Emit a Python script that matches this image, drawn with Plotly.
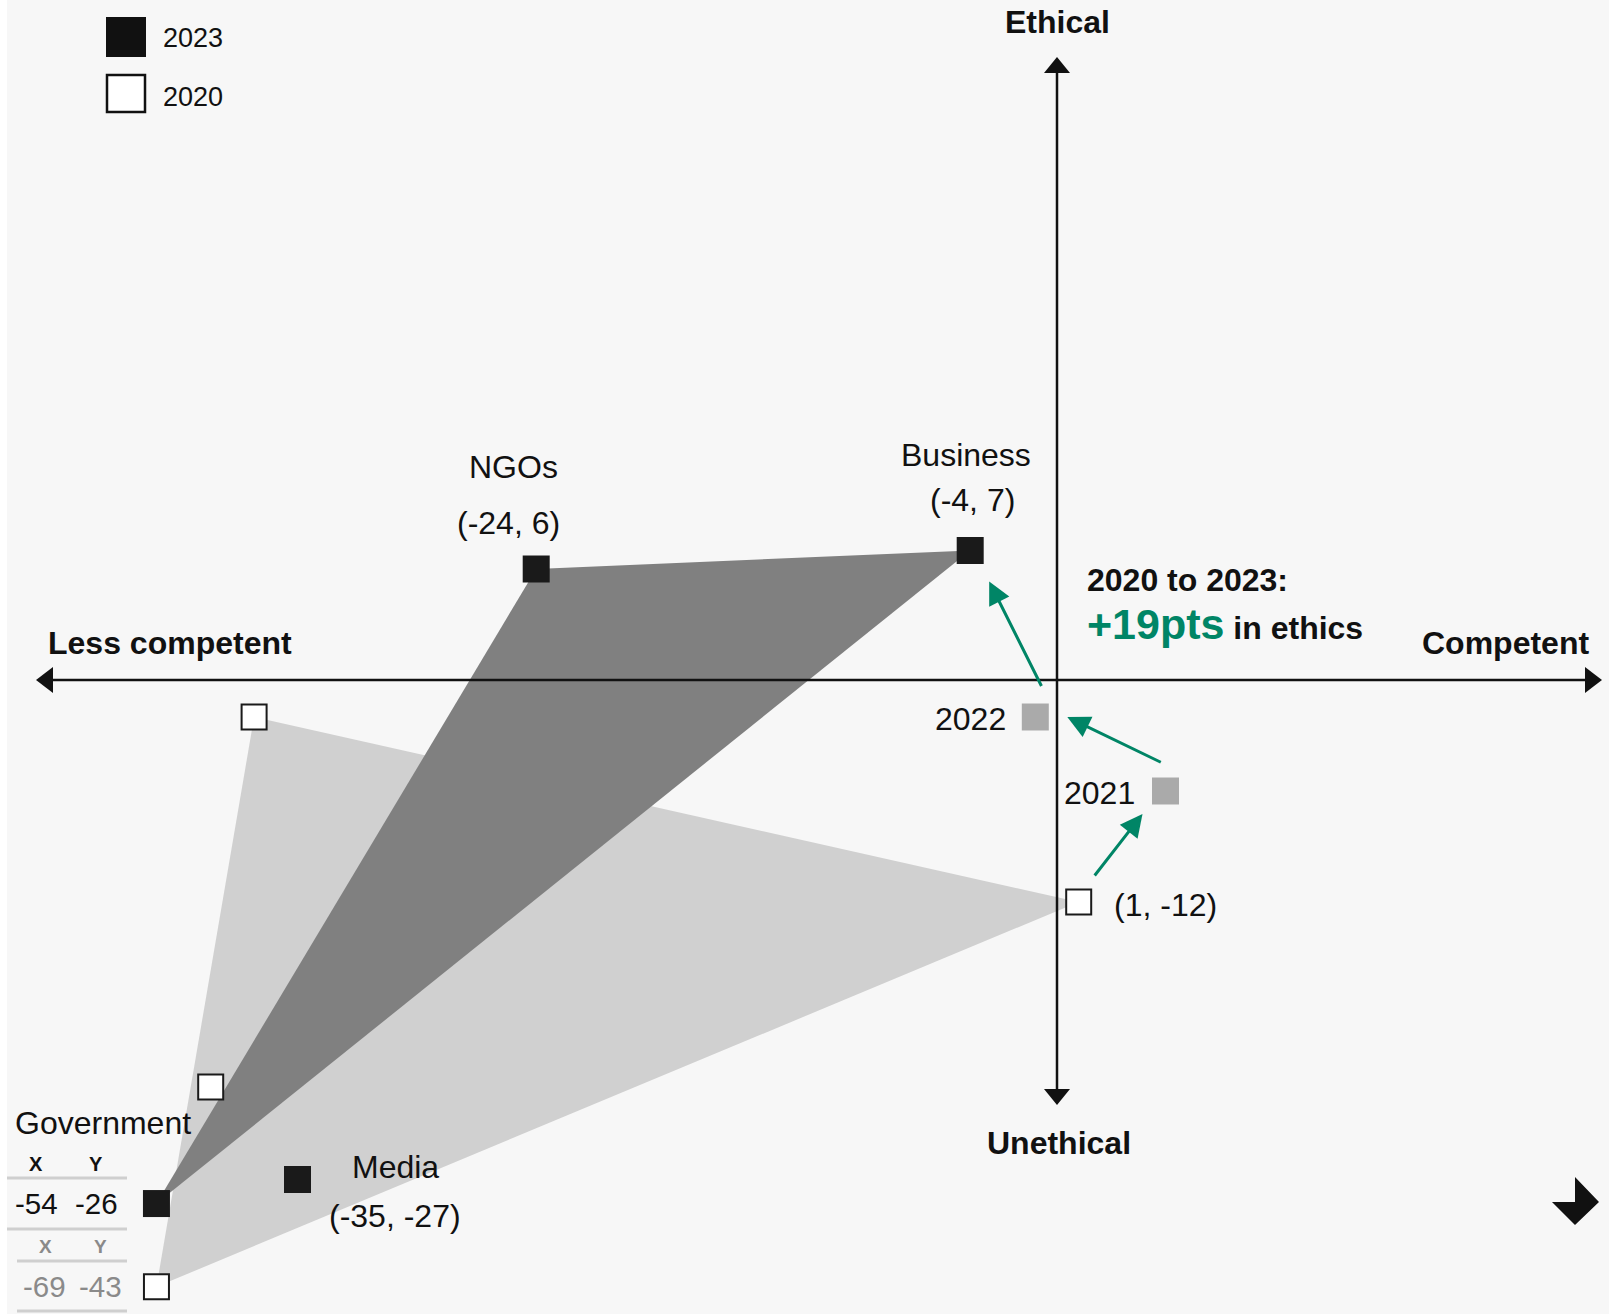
import plotly.graph_objects as go

# Competence (x) vs ethics (y) net scores per institution
institutions = ["Business", "NGOs", "Government", "Media"]
score_2023_x = [-4, -24, -54, -35]
score_2023_y = [7, 6, -26, -27]
score_2020_x = [1, -37, -69, -39]
score_2020_y = [-12, -2, -43, -22]

# Government is far off the scale, so the chart pins it into the lower-left corner
gov_pinned_2023 = (-41.5, -28.3)
gov_pinned_2020 = (-41.5, -32.8)

# Business path between 2020 and 2023
path_years = ["2021", "2022"]
path_x = [5, -1]
path_y = [-6, -2]

legend_years = ["2023", "2020"]

INK = "#111111"
GREEN = "#008566"
BG = "#f7f7f7"
FONT = "Liberation Sans, Arial, sans-serif"
LBL = 32

W, H = 1609, 1314
X0_PX, Y0_PX = 1057, 680   # where the origin sits on the page
SX, SY = 21.7, 18.5        # pixels per point on each axis
x_range = [-X0_PX / SX, (W - X0_PX) / SX]
y_range = [-(H - Y0_PX) / SY, Y0_PX / SY]


def px(x):
    return x / W


def py(y):
    return 1 - y / H


def poly_path(points):
    return "M " + " L ".join(f"{px(a):.5f},{py(b):.5f}" for a, b in points) + " Z"


# positions actually drawn (Government pinned)
plot_2023_x = list(score_2023_x)
plot_2023_y = list(score_2023_y)
plot_2020_x = list(score_2020_x)
plot_2020_y = list(score_2020_y)
gi = institutions.index("Government")
plot_2023_x[gi], plot_2023_y[gi] = gov_pinned_2023
plot_2020_x[gi], plot_2020_y[gi] = gov_pinned_2020

tri = [institutions.index(n) for n in ["Business", "NGOs", "Government"]]

fig = go.Figure()

# shaded triangles, 2020 underneath
fig.add_trace(go.Scatter(
    x=[plot_2020_x[i] for i in tri], y=[plot_2020_y[i] for i in tri],
    fill="toself", fillcolor="#d0d0d0", mode="lines",
    line=dict(width=0, color="rgba(0,0,0,0)"), hoverinfo="skip"))
fig.add_trace(go.Scatter(
    x=[plot_2023_x[i] for i in tri], y=[plot_2023_y[i] for i in tri],
    fill="toself", fillcolor="#808080", mode="lines",
    line=dict(width=0, color="rgba(0,0,0,0)"), hoverinfo="skip"))

# markers
fig.add_trace(go.Scatter(
    x=plot_2020_x, y=plot_2020_y, mode="markers", name="2020",
    marker=dict(symbol="square", size=25, color="white",
                line=dict(color="#1a1a1a", width=2))))
fig.add_trace(go.Scatter(
    x=path_x, y=path_y, mode="markers", name="path",
    marker=dict(symbol="square", size=27, color="#aaaaaa", line=dict(width=0))))
fig.add_trace(go.Scatter(
    x=plot_2023_x, y=plot_2023_y, mode="markers", name="2023",
    marker=dict(symbol="square", size=27, color="#1a1a1a", line=dict(width=0))))

shapes = []
# thin white strip on the left edge
shapes.append(dict(type="rect", xref="paper", yref="paper", x0=0, x1=px(7), y0=0, y1=1,
                   fillcolor="white", line=dict(width=0), layer="below"))

# axes with arrowheads
ax_line = dict(color=INK, width=2.5)
shapes.append(dict(type="line", xref="paper", yref="y", x0=px(50), x1=px(1588), y0=0, y1=0,
                   line=ax_line, layer="above"))
shapes.append(dict(type="line", xref="x", yref="paper", x0=0, x1=0, y0=py(70), y1=py(1092),
                   line=ax_line, layer="above"))
for pts in [
    [(36, Y0_PX), (53, Y0_PX - 13), (53, Y0_PX + 13)],
    [(1602, Y0_PX), (1585, Y0_PX - 13), (1585, Y0_PX + 13)],
    [(X0_PX, 57), (X0_PX - 13, 73), (X0_PX + 13, 73)],
    [(X0_PX, 1105), (X0_PX - 13, 1089), (X0_PX + 13, 1089)],
]:
    shapes.append(dict(type="path", xref="paper", yref="paper", path=poly_path(pts),
                       fillcolor=INK, line=dict(width=0), layer="above"))

# legend squares
shapes.append(dict(type="rect", xref="paper", yref="paper", x0=px(106), x1=px(146),
                   y0=py(17), y1=py(57), fillcolor=INK, line=dict(width=0)))
shapes.append(dict(type="rect", xref="paper", yref="paper", x0=px(107), x1=px(145),
                   y0=py(75), y1=py(112), fillcolor="white", line=dict(color=INK, width=2.5)))

# Government table rules
for yy, x0 in [(1178, 7), (1229, 7), (1261, 17), (1311, 17)]:
    shapes.append(dict(type="line", xref="paper", yref="paper", x0=px(x0), x1=px(127),
                       y0=py(yy), y1=py(yy), line=dict(color="#cfcfcf", width=3)))

# share icon bottom right
shapes.append(dict(type="path", xref="paper", yref="paper",
                   path=poly_path([(1552, 1202), (1575, 1202), (1575, 1177),
                                   (1599, 1202), (1575, 1225)]),
                   fillcolor=INK, line=dict(width=0)))


def note(text, x, y, dx=0, dy=0, size=LBL, color=INK, anchor="center", xref="x", yref="y"):
    fig.add_annotation(text=text, x=x, y=y, xref=xref, yref=yref, xshift=dx, yshift=-dy,
                       showarrow=False, xanchor=anchor, yanchor="middle",
                       font=dict(size=size, color=color, family=FONT))


# legend text
note(legend_years[0], px(161), py(38), size=27, anchor="left", xref="paper", yref="paper")
note(legend_years[1], px(161), py(97), size=27, anchor="left", xref="paper", yref="paper")

# axis titles
note("<b>Ethical</b>", 0, py(22), yref="paper")
note("<b>Unethical</b>", 0, py(1143), dx=2, yref="paper")
note("<b>Less competent</b>", px(170), 0, dy=-37, xref="paper")
note("<b>Competent</b>", px(1505), 0, dy=-37, xref="paper")

# institution labels
i = institutions.index("NGOs")
note("NGOs", score_2023_x[i], score_2023_y[i], dx=-23, dy=-102)
note(f"({score_2023_x[i]}, {score_2023_y[i]})", score_2023_x[i], score_2023_y[i], dx=-28, dy=-46)
i = institutions.index("Business")
note("Business", score_2023_x[i], score_2023_y[i], dx=-4, dy=-96)
note(f"({score_2023_x[i]}, {score_2023_y[i]})", score_2023_x[i], score_2023_y[i], dx=2, dy=-51)
note(f"({score_2020_x[i]}, {score_2020_y[i]})", score_2020_x[i], score_2020_y[i],
     dx=33, dy=3, anchor="left")
i = institutions.index("Media")
note("Media", score_2023_x[i], score_2023_y[i], dx=98, dy=-13)
note(f"({score_2023_x[i]}, {score_2023_y[i]})", score_2023_x[i], score_2023_y[i], dx=97, dy=36)

for yr, x, y in zip(path_years, path_x, path_y):
    note(yr, x, y, dx=-27 if yr == "2022" else -29, dy=2, anchor="right")

# Government label with its value table
gx, gy = gov_pinned_2023
note("Government", gx, gy, dx=-143, dy=-81, anchor="left")
note("<b>X</b>", gx, gy, dx=-120, dy=-40, size=20)
note("<b>Y</b>", gx, gy, dx=-60, dy=-40, size=20)
note(str(score_2023_x[gi]), gx, gy, dx=-120, dy=0, size=29.5)
note(str(score_2023_y[gi]), gx, gy, dx=-60, dy=0, size=29.5)
gx, gy = gov_pinned_2020
note("<b>X</b>", gx, gy, dx=-111, dy=-40, size=19, color="#8a8a8a")
note("<b>Y</b>", gx, gy, dx=-56, dy=-40, size=19, color="#8a8a8a")
note(str(score_2020_x[gi]), gx, gy, dx=-112, dy=0, size=29.5, color="#8a8a8a")
note(str(score_2020_y[gi]), gx, gy, dx=-56, dy=0, size=29.5, color="#8a8a8a")

# callout
change = score_2023_y[institutions.index("Business")] - score_2020_y[institutions.index("Business")]
note("<b>2020 to 2023:</b>", px(1085), py(580), anchor="left", xref="paper", yref="paper")
note(f"<b><span style='color:{GREEN};font-size:43px'>+{change}pts</span> in ethics</b>",
     px(1085), py(624), anchor="left", xref="paper", yref="paper")

# green arrows along the Business path: 2020 -> 2021 -> 2022 -> 2023
bi = institutions.index("Business")
arrows = [
    (path_x[0], path_y[0], -23, 23, -49, 63),
    (path_x[1], path_y[1], 32, 0, 95, 46),
    (score_2023_x[bi], score_2023_y[bi], 19, 31, 53, 106),
]
for x, y, dx, dy, tx, ty in arrows:
    fig.add_annotation(x=x, y=y, xref="x", yref="y", xshift=dx, yshift=-dy,
                       ax=tx, ay=ty, text="", showarrow=True,
                       arrowhead=2, arrowsize=1.5, arrowwidth=3, arrowcolor=GREEN)

fig.update_layout(
    width=W, height=H,
    margin=dict(l=0, r=0, t=0, b=0),
    paper_bgcolor=BG, plot_bgcolor=BG,
    showlegend=False,
    font=dict(family=FONT, color=INK),
    shapes=shapes,
    xaxis=dict(range=x_range, visible=False, fixedrange=True),
    yaxis=dict(range=y_range, visible=False, fixedrange=True),
)

# the page's default body margin would push the chart 8px off the window
fig.write_html("out.html", config={"displayModeBar": False},
               post_script="document.body.style.margin = '0';")
